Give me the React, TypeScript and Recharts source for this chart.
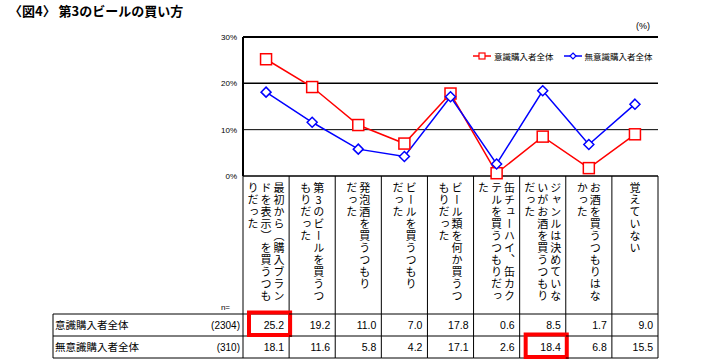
import React from "react";
import {
  LineChart,
  Line,
  XAxis,
  YAxis,
  ReferenceLine,
  Legend,
} from "recharts";

// category labels, "\n" = next vertical column (right to left)
const categories = [
  "最初から（購入ブラン\nドを表示）を買うつも\nりだった",
  "第3のビールを買うつ\nもりだった",
  "発泡酒を買うつもり\nだった",
  "ビールを買うつもり\nだった",
  "ビール類を何か買うつ\nもりだった",
  "缶チューハイ、缶カク\nテルを買うつもりだっ\nた",
  "ジャンルは決めていな\nいがお酒を買うつもり\nだった",
  "お酒を買うつもりはな\nかった",
  "覚えていない",
];

const consciousValues = [25.2, 19.2, 11.0, 7.0, 17.8, 0.6, 8.5, 1.7, 9.0];
const unconsciousValues = [18.1, 11.6, 5.8, 4.2, 17.1, 2.6, 18.4, 6.8, 15.5];

const seriesNames = ["意識購入者全体", "無意識購入者全体"];
const sampleSizes = ["(2304)", "(310)"];
const yTicks = [0, 10, 20, 30];
const gridValues = [10, 20, 30];
// [row, category] cells boxed in red
const highlights = [
  [0, 0],
  [1, 6],
];

const WIDTH = 711;
const HEIGHT = 364;
const PLOT_LEFT = 243;
const PLOT_RIGHT = 658;
const PLOT_TOP = 37;
const PLOT_BOTTOM = 176;
const YAXIS_W = 30;
const COL_W = (PLOT_RIGHT - PLOT_LEFT) / categories.length;
const TABLE_LEFT = 53;
const TABLE_TOP = 138; // offset from axis
const ROW_H = 22;

const FONT = "'Noto Sans CJK JP', 'Noto Sans', sans-serif";
const NUM_FONT = "'Liberation Sans', Arial, sans-serif";

const data = categories.map((name, i) => ({
  name,
  conscious: consciousValues[i],
  unconscious: unconsciousValues[i],
}));

const rows = [consciousValues, unconsciousValues];

function SquareDot(props: any) {
  const { cx, cy } = props;
  if (cx == null || cy == null) return null;
  return (
    <rect
      x={cx - 5.5}
      y={cy - 5.5}
      width={11}
      height={11}
      fill="#fff"
      stroke="#FF0000"
      strokeWidth={1.5}
    />
  );
}

function DiamondDot(props: any) {
  const { cx, cy } = props;
  if (cx == null || cy == null) return null;
  const r = 5;
  return (
    <polygon
      points={`${cx},${cy - r} ${cx + r},${cy} ${cx},${cy + r} ${cx - r},${cy}`}
      fill="#fff"
      stroke="#0000FF"
      strokeWidth={1.5}
    />
  );
}

function CategoryTick(props: any) {
  const { x, y, payload } = props;
  const i = payload?.index ?? props.index ?? 0;
  const cols = categories[i].split("\n");
  const left = x - COL_W / 2;
  const right = x + COL_W / 2;
  const top = y + TABLE_TOP;
  const bottom = top + ROW_H * 2;

  return (
    <g>
      {cols.map((c, k) => (
        <text
          key={k}
          x={x + ((cols.length - 1) / 2 - k) * 13}
          y={y + 6}
          fontSize={11}
          letterSpacing={1}
          fill="#000"
          fontFamily={FONT}
          style={{ writingMode: "vertical-rl", textOrientation: "upright" } as any}
        >
          {c}
        </text>
      ))}
      <line x1={right} y1={y} x2={right} y2={bottom} stroke="#000" />
      {i === 0 && <line x1={left} y1={y} x2={left} y2={bottom} stroke="#000" />}
      {[0, 1, 2].map((r) => (
        <line
          key={r}
          x1={i === 0 ? TABLE_LEFT : left}
          y1={top + r * ROW_H}
          x2={right}
          y2={top + r * ROW_H}
          stroke="#000"
        />
      ))}
      {rows.map((vals, r) => (
        <text
          key={r}
          x={right - 5}
          y={top + r * ROW_H + ROW_H / 2 + 4}
          textAnchor="end"
          fontSize={10.5}
          fontFamily={NUM_FONT}
          fill="#000"
        >
          {vals[i].toFixed(1)}
        </text>
      ))}
      {highlights
        .filter(([, c]) => c === i)
        .map(([r]) => (
          <rect
            key={r}
            x={left + 6}
            y={top + r * ROW_H - 1.5}
            width={COL_W - 5}
            height={ROW_H + 0.5}
            fill="none"
            stroke="#FF0000"
            strokeWidth={4}
          />
        ))}
      {i === 0 && (
        <g>
          <line x1={TABLE_LEFT} y1={top} x2={TABLE_LEFT} y2={bottom} stroke="#000" />
          <text x={left - 13} y={top - 4} fontSize={8} fontFamily={NUM_FONT} textAnchor="end">
            n=
          </text>
          {seriesNames.map((s, r) => (
            <g key={s}>
              <text
                x={TABLE_LEFT + 2}
                y={top + r * ROW_H + ROW_H / 2 + 4}
                fontSize={10.5}
                fontFamily={FONT}
                fill="#000"
              >
                {s}
              </text>
              <text
                x={left - 3}
                y={top + r * ROW_H + ROW_H / 2 + 4}
                fontSize={10}
                fontFamily={NUM_FONT}
                textAnchor="end"
                fill="#000"
              >
                {sampleSizes[r]}
              </text>
            </g>
          ))}
        </g>
      )}
    </g>
  );
}

function LegendContent() {
  const item = (name: string, color: string, square: boolean) => (
    <div
      key={name}
      style={{ display: "flex", alignItems: "center", marginRight: 9, whiteSpace: "nowrap" }}
    >
      <svg width={20} height={10}>
        <line x1={1} y1={5} x2={19} y2={5} stroke={color} strokeWidth={1.5} />
        {square ? (
          <rect x={7} y={2} width={6} height={6} fill="#fff" stroke={color} strokeWidth={1.2} />
        ) : (
          <polygon points="10,2 13,5 10,8 7,5" fill="#fff" stroke={color} strokeWidth={1.2} />
        )}
      </svg>
      <span style={{ fontSize: 8.5, marginLeft: 2, fontFamily: FONT, color: "#000" }}>{name}</span>
    </div>
  );
  return (
    <div style={{ display: "flex", whiteSpace: "nowrap" }}>
      {item(seriesNames[0], "#FF0000", true)}
      {item(seriesNames[1], "#0000FF", false)}
    </div>
  );
}

export default function App() {
  return (
    <div
      style={{
        position: "absolute",
        left: 0,
        top: 0,
        width: WIDTH,
        height: HEIGHT,
        background: "#fff",
        fontFamily: FONT,
      }}
    >
      <div
        style={{
          position: "absolute",
          left: 9,
          top: 1,
          fontSize: 13,
          fontWeight: "bold",
          whiteSpace: "nowrap",
        }}
      >
        〈図4〉 第3のビールの買い方
      </div>
      <div style={{ position: "absolute", left: 636, top: 21, fontSize: 9, fontFamily: NUM_FONT }}>
        (%)
      </div>
      <LineChart
        width={WIDTH}
        height={HEIGHT}
        data={data}
        margin={{
          top: PLOT_TOP,
          right: WIDTH - PLOT_RIGHT,
          left: PLOT_LEFT - YAXIS_W,
          bottom: 0,
        }}
      >
        {gridValues.map((v) => (
          <ReferenceLine
            key={v}
            y={v}
            stroke="#000"
            strokeWidth={v === 10 ? 1 : v === 20 ? 1.5 : 2}
            ifOverflow="extendDomain"
          />
        ))}
        <XAxis
          dataKey="name"
          scale="band"
          interval={0}
          height={HEIGHT - PLOT_BOTTOM}
          tickLine={false}
          tickSize={0}
          tickMargin={0}
          axisLine={{ stroke: "#000", strokeWidth: 1.5 }}
          tick={<CategoryTick />}
        />
        <YAxis
          width={YAXIS_W}
          domain={[0, 30]}
          ticks={yTicks}
          tickFormatter={(v) => `${v}%`}
          tickLine={false}
          tickSize={0}
          tickMargin={6}
          axisLine={{ stroke: "#000", strokeWidth: 2 }}
          tick={{ fontSize: 8, fill: "#000", fontFamily: NUM_FONT }}
        />
        <Legend
          layout="horizontal"
          verticalAlign="middle"
          align="center"
          content={<LegendContent />}
          wrapperStyle={{ position: "absolute", top: 50, left: 472, width: 230 }}
        />
        <Line
          dataKey="conscious"
          stroke="#FF0000"
          strokeWidth={1.5}
          dot={<SquareDot />}
          isAnimationActive={false}
        />
        <Line
          dataKey="unconscious"
          stroke="#0000FF"
          strokeWidth={1.5}
          dot={<DiamondDot />}
          isAnimationActive={false}
        />
      </LineChart>
    </div>
  );
}
